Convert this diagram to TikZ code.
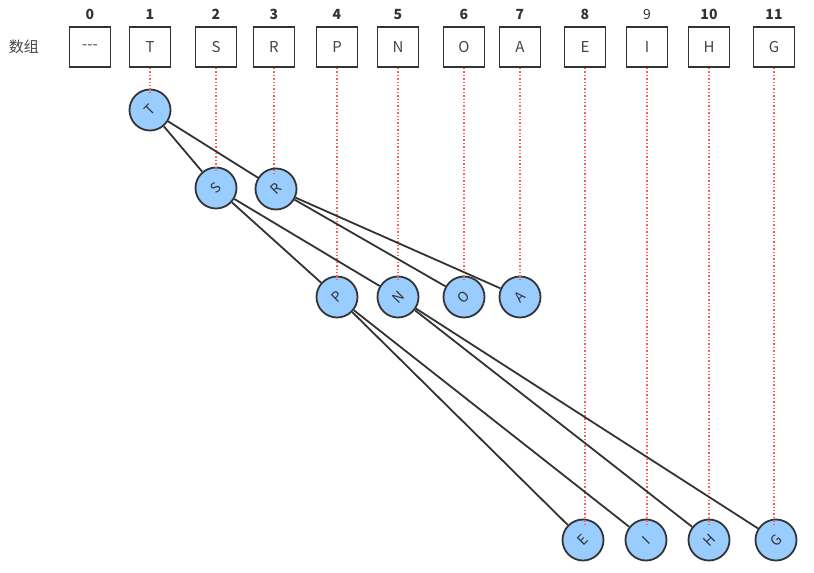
\documentclass[tikz,border=0pt]{standalone}
\usepackage{fontspec}
\setmainfont{Noto Sans CJK SC}
\usepackage{tikz}
\usetikzlibrary{positioning}

\definecolor{linegray}{HTML}{333333}
\definecolor{textgray}{HTML}{444444}
\definecolor{nodeblue}{HTML}{99CCFF}
\definecolor{dotred}{HTML}{FF5C5C}

\begin{document}
\begin{tikzpicture}[
  x=1pt, y=-1pt,
  every node/.style={font=\fontsize{15}{17}\selectfont, text=textgray},
  cell/.style={rectangle, draw=linegray, fill=white, line width=1.8pt, minimum width=41pt, minimum height=40pt, inner sep=0pt},
  idx/.style={font=\fontsize{14}{16}\selectfont\bfseries, text=linegray},
  idxthin/.style={font=\fontsize{14}{16}\selectfont, text=linegray},
  hnode/.style={circle, draw=linegray, fill=nodeblue, line width=1.8pt, minimum size=41pt, inner sep=0pt, rotate=45, font=\fontsize{14}{16}\selectfont, text=linegray},
  edge/.style={draw=linegray, line width=1.8pt},
  guide/.style={draw=dotred, line width=1.4pt, dotted},
]
\useasboundingbox (0,0) rectangle (814,573);

%% Array label
\node at (24,47) (lbl) {数组};

%% Array cells
\node[cell] at (90,47)  (a0)  {-{}-{}-};
\node[cell] at (150,47) (a1)  {T};
\node[cell] at (216,47) (a2)  {S};
\node[cell] at (274,47) (a3)  {R};
\node[cell] at (337,47) (a4)  {P};
\node[cell] at (398,47) (a5)  {N};
\node[cell] at (464,47) (a6)  {O};
\node[cell] at (520,47) (a7)  {A};
\node[cell] at (585,47) (a8)  {E};
\node[cell] at (647,47) (a9)  {I};
\node[cell] at (709,47) (a10) {H};
\node[cell] at (774,47) (a11) {G};

%% Indices
\node[idx,     above=3pt of a0]  (i0)  {0};
\node[idx,     above=3pt of a1]  (i1)  {1};
\node[idx,     above=3pt of a2]  (i2)  {2};
\node[idx,     above=3pt of a3]  (i3)  {3};
\node[idx,     above=3pt of a4]  (i4)  {4};
\node[idx,     above=3pt of a5]  (i5)  {5};
\node[idx,     above=3pt of a6]  (i6)  {6};
\node[idx,     above=3pt of a7]  (i7)  {7};
\node[idx,     above=3pt of a8]  (i8)  {8};
\node[idxthin, above=3pt of a9]  (i9)  {9};
\node[idx,     above=3pt of a10] (i10) {10};
\node[idx,     above=3pt of a11] (i11) {11};

%% Tree nodes
\node[hnode] at (150,110) (t) {T};
\node[hnode] at (216,188) (s) {S};
\node[hnode] at (276,189) (r) {R};
\node[hnode] at (337,297) (p) {P};
\node[hnode] at (398,297) (n) {N};
\node[hnode] at (464,297) (o) {O};
\node[hnode] at (520,297) (a) {A};
\node[hnode] at (583,540) (e) {E};
\node[hnode] at (646,540) (i) {I};
\node[hnode] at (709,540) (h) {H};
\node[hnode] at (776,540) (g) {G};

%% Guides
\draw[guide] (a1.south)  -- (a1.south  |- t.north);
\draw[guide] (a2.south)  -- (a2.south  |- s.north);
\draw[guide] (a3.south)  -- (a3.south  |- r.north);
\draw[guide] (a4.south)  -- (a4.south  |- p.north);
\draw[guide] (a5.south)  -- (a5.south  |- n.north);
\draw[guide] (a6.south)  -- (a6.south  |- o.north);
\draw[guide] (a7.south)  -- (a7.south  |- a.north);
\draw[guide] (a8.south)  -- (a8.south  |- e.north);
\draw[guide] (a9.south)  -- (a9.south  |- i.north);
\draw[guide] (a10.south) -- (a10.south |- h.north);
\draw[guide] (a11.south) -- (a11.south |- g.north);

%% Edges
\draw[edge] (t) -- (s);
\draw[edge] (t) -- (r);
\draw[edge] (s) -- (p);
\draw[edge] (s) -- (n);
\draw[edge] (r) -- (o);
\draw[edge] (r) -- (a);
\draw[edge] (p) -- (e);
\draw[edge] (p) -- (i);
\draw[edge] (n) -- (h);
\draw[edge] (n) -- (g);

\end{tikzpicture}
\end{document}
